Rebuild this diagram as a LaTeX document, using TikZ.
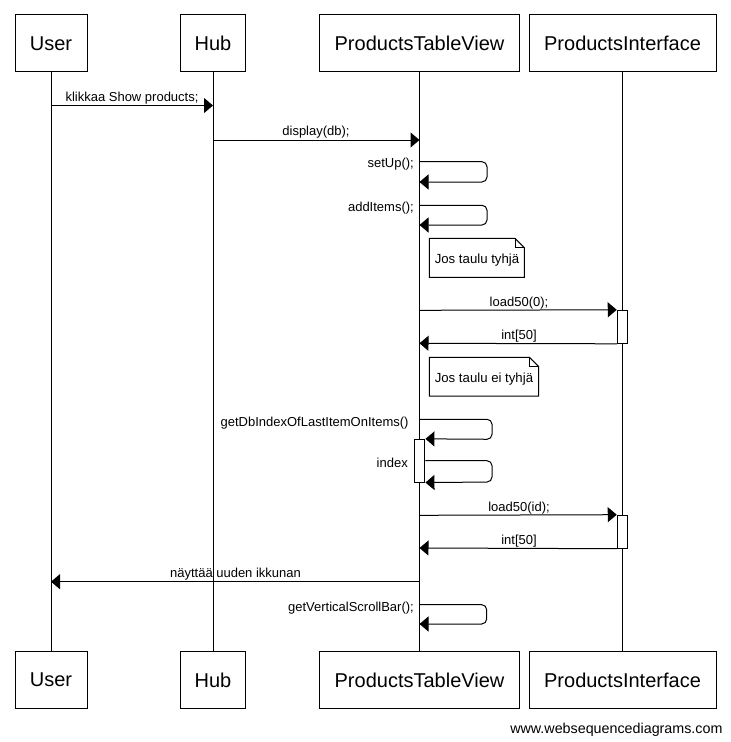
\documentclass[tikz,border=0pt]{standalone}
\usepackage{fontspec}
\setmainfont{Liberation Sans}
\usetikzlibrary{arrows.meta}
\begin{document}
\begin{tikzpicture}[x=1pt,y=-1pt,line width=1pt,
  actor/.style={draw,fill=white,minimum height=57pt,inner sep=0pt,font=\fontsize{20}{24}\selectfont},
  msg/.style={-{Triangle[length=9pt,width=15pt]}},
  lbl/.style={inner sep=0pt,font=\fontsize{13}{15}\selectfont},
  notetxt/.style={inner sep=0pt,anchor=base west,font=\fontsize{13.2}{15}\selectfont},
  act/.style={draw,fill=white,inner sep=0pt,minimum width=10.5pt}
]
\useasboundingbox (0,0) rectangle (731,742);

% actors
\node[actor,minimum width=72pt]  (userT) at (51,43.3)    {User};
\node[actor,minimum width=65pt]  (hubT)  at (213,43.3)   {Hub};
\node[actor,minimum width=200pt] (ptvT)  at (419.5,43.3) {ProductsTableView};
\node[actor,minimum width=187pt] (piT)   at (622.5,43.3) {ProductsInterface};
\node[actor,minimum width=72pt]  (userB) at (51,680)     {User};
\node[actor,minimum width=65pt]  (hubB)  at (213,680)    {Hub};
\node[actor,minimum width=200pt] (ptvB)  at (419.5,680)  {ProductsTableView};
\node[actor,minimum width=187pt] (piB)   at (622.5,680)  {ProductsInterface};

% lifelines
\draw (userT) -- (userB);
\draw (hubT) -- (hubB);
\draw (ptvT) -- (ptvB);
\draw (piT) -- (piB);

% activation boxes
\node[act,minimum height=33pt]   (actI1) at (622.5,326.8) {};
\node[act,minimum height=33pt]   (actI2) at (622.5,531.7) {};
\node[act,minimum height=42.7pt] (actP)  at (419.7,460.7) {};

% message coordinates
\coordinate (u1) at (51,105.5);   \coordinate (h1) at (213,105.5);
\coordinate (h2) at (213,140);    \coordinate (p2) at (419.5,140);
\coordinate (p3) at (419.5,161.7); \coordinate (p3e) at (419.5,182);
\coordinate (p4) at (419.5,205.3); \coordinate (p4e) at (419.5,225);
\coordinate (p6) at (419.5,310.3);
\coordinate (p8) at (419.5,343.3);
\coordinate (p10) at (419.5,419.3);
\coordinate (p13) at (419.5,515.3);
\coordinate (p14) at (419.5,548);
\coordinate (p15) at (419.5,581.7); \coordinate (u15) at (51,581.7);
\coordinate (p16) at (419.5,604.7); \coordinate (p16e) at (419.5,624);

% messages
\draw[msg] (u1) -- (h1);
\node[lbl,anchor=base] (l1) at (132,101.5) {klikkaa Show products;};

\draw[msg] (h2) -- (p2);
\node[lbl,anchor=base] (l2) at (316,135.5) {display(db);};

\draw[msg,rounded corners=5pt] (p3) -- ++(67.5,0) -- ++(0,20.3) -- (p3e);
\node[lbl,anchor=base east] (l3) at (414.3,167.7) {setUp();};

\draw[msg,rounded corners=5pt] (p4) -- ++(67.5,0) -- ++(0,19.7) -- (p4e);
\node[lbl,anchor=base east] (l4) at (414.3,211.7) {addItems();};

% note 1
\draw[fill=white] (429.3,238.3) -- (515,238.3) -- (524.3,247.6) -- (524.3,277.3) -- (429.3,277.3) -- cycle;
\draw (515,238.3) -- (515,247.6) -- (524.3,247.6);
\node[notetxt] (n1) at (434.3,263.3) {Jos taulu tyhjä};

\draw[msg] (p6) -- (actI1.north west);
\node[lbl,anchor=base] (l6) at (519,306) {load50(0);};

\draw[msg] (actI1.south west) -- (p8);
\node[lbl,anchor=base] (l8) at (519,339.5) {int[50]};

% note 2
\draw[fill=white] (429.3,357.3) -- (529.4,357.3) -- (538.7,366.6) -- (538.7,396) -- (429.3,396) -- cycle;
\draw (529.4,357.3) -- (529.4,366.6) -- (538.7,366.6);
\node[notetxt] (n2) at (434.3,382.5) {Jos taulu ei tyhjä};

\draw[msg,rounded corners=5pt] (p10) -- (492,419.3) -- (492,439.3) -- (actP.north east);
\node[lbl,anchor=base east] (l10) at (409,426) {getDbIndexOfLastItemOnItems()};

\draw[msg,rounded corners=5pt] (actP.east) -- (492,460.7) -- (492,482) -- (actP.south east);
\node[lbl,anchor=base east] (l12) at (408.3,467.7) {index};

\draw[msg] (p13) -- (actI2.north west);
\node[lbl,anchor=base] (l13) at (519,511) {load50(id);};

\draw[msg] (actI2.south west) -- (p14);
\node[lbl,anchor=base] (l14) at (519,544.2) {int[50]};

\draw[msg] (p15) -- (u15);
\node[lbl,anchor=base] (l15) at (235.5,577.5) {näyttää uuden ikkunan};

\draw[msg,rounded corners=5pt] (p16) -- ++(67.2,0) -- ++(0,19.3) -- (p16e);
\node[lbl,anchor=base east] (l16) at (414.3,611) {getVerticalScrollBar();};

% footer
\node[inner sep=0pt,anchor=base east,font=\fontsize{14.3}{16}\selectfont] (footer) at (723,733.5) {www.websequencediagrams.com};
\end{tikzpicture}
\end{document}
